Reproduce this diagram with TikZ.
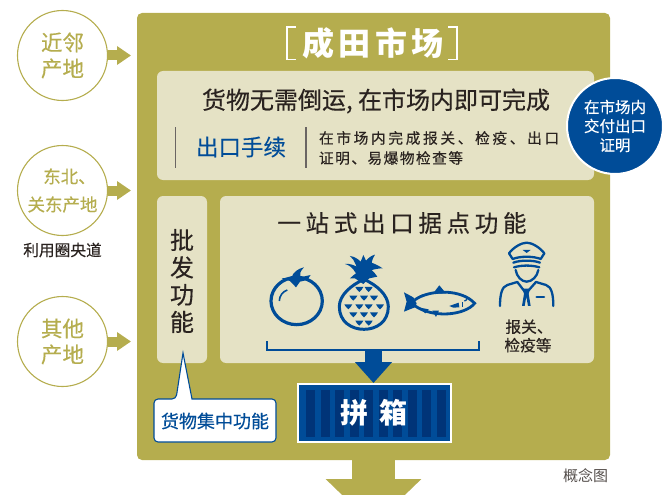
\documentclass[tikz,border=0pt]{standalone}
\usepackage{fontspec}
\setmainfont{Noto Sans CJK SC}
\usetikzlibrary{arrows.meta}
\definecolor{gold}{HTML}{B5AD4E}
\definecolor{pale}{HTML}{E5E2C5}
\definecolor{navy}{HTML}{004C98}
\definecolor{deepnavy}{HTML}{003478}
\definecolor{ink}{HTML}{2A2320}
\newcommand{\fsz}[2]{\fontsize{#1}{#2}\selectfont}
\newcommand{\lsp}[1]{\addfontfeature{LetterSpace=#1}}
\newcommand{\hvy}{\addfontfeature{FakeBold=0.35}}
\tikzset{
  x=1pt,y=-1pt,
  every node/.style={inner sep=0pt,outer sep=0pt,align=center},
  panel/.style={fill=pale,rounded corners=6pt},
  origin/.style={circle,draw=gold,line width=1.1pt,fill=white,minimum size=90pt,text=gold},
  feed/.style={draw=gold,line width=10pt,-{Triangle[length=14pt,width=18pt]},shorten >=6pt},
  rule/.style={draw=ink!70,line width=1.2pt},
  blueline/.style={draw=navy,line width=1.8pt},
}
\begin{document}
\begin{tikzpicture}
\useasboundingbox (0,0) rectangle (667,495);
\clip (0,0) rectangle (667,495);
% main panel
\node[fill=gold,rounded corners=5pt,minimum width=473pt,minimum height=447pt,anchor=north west] (main) at (137,13) {};
\node[panel,minimum width=437pt,minimum height=109pt,anchor=north west] (top) at (157,71) {};
\node[panel,minimum width=50pt,minimum height=167pt,anchor=north west] (batch) at (157,196) {};
\node[panel,minimum width=374pt,minimum height=167pt,anchor=north west] (stop) at (220,196) {};
% title
\node[text=white,font=\bfseries\fsz{32}{32}\lsp{14}] (title) at (373,43) {成田市场};
\draw[white,line width=1.3pt] (296,27) -- (287,27) -- (287,59.5) -- (296,59.5);
\draw[white,line width=1.3pt] (448,27) -- (457,27) -- (457,59.5) -- (448,59.5);
% top panel
\node[text=ink,font=\fsz{24}{24}\hvy] (head) at (376,101) {货物无需倒运, 在市场内即可完成};
\draw[rule] (175.7,127) -- (175.7,168);
\draw[rule] (306,127) -- (306,168);
\node[text=navy,font=\fsz{22.5}{22.5}\hvy] (proc) at (241,147) {出口手续};
\node[text=ink,font=\fsz{14.7}{20}\lsp{18}\hvy,anchor=west,align=left] (procnote) at (319,148) {在市场内完成报关、检疫、出口\\[0pt]{\lsp{10}证明、易爆物检查等}};
% blue circle
\node[circle,fill=navy,draw=white,line width=2pt,minimum size=96pt,text=white,font=\fsz{15.5}{19}\hvy] (cert) at (615,126) {在市场内\\交付出口\\证明};
% origins
\node[origin,font=\fsz{21.5}{26}\hvy] (o1) at (62.5,55.5) {近邻\\产地};
\node[origin,font=\fsz{17.5}{28}\hvy] (o2) at (62.5,190.5) {\hspace*{14pt}东北、\\关东产地};
\node[origin,font=\fsz{21.5}{26}\hvy] (o3) at (62.5,341.5) {其他\\产地};
\node[text=ink,font=\fsz{15.7}{16}\hvy] (ring) at (62.5,250) {利用圈央道};
\draw[feed] (o1.east) -- (o1.east -| main.west);
\draw[feed] (o2.east) -- (o2.east -| main.west);
\draw[feed] (o3.east) -- (o3.east -| main.west);
% batch
\node[text=ink,font=\fsz{24}{27.3}\hvy] (batchtxt) at (182,281) {批\\发\\功\\能};
% one stop
\node[text=ink,font=\fsz{23.5}{23.5}\lsp{20}\hvy] (stoptxt) at (402,223) {一站式出口据点功能};
\node[text=ink,font=\fsz{15.7}{18.5}\hvy] (insp) at (528,336) {\hspace*{2pt}报关、\\检疫等};
% tomato
\begin{scope}[shift={(220,190)},x=0.3333pt,y=-0.3333pt]
 \draw[navy,line width=3.2pt] (230,333) ellipse [x radius=77,y radius=71];
 \fill[navy] (185,265) -- (215,262) .. controls (218,248) and (235,235) .. (252,232) .. controls (240,245) and (238,252) .. (241,262) -- (272,255) -- (262,270) -- (240,275) -- (228,292) -- (210,273) -- cycle;
 \draw[navy,line width=1.6pt] (178,333) .. controls (178,318) and (188,305) .. (202,300);
 % pineapple
 \draw[navy,line width=3pt] (432,268) .. controls (470,285) and (505,315) .. (505,350) .. controls (505,395) and (470,418) .. (432,418) .. controls (394,418) and (358,395) .. (358,350) .. controls (358,315) and (394,285) .. (432,268) -- cycle;
 \fill[navy] (430,282) -- (405,265) -- (390,265) .. controls (398,258) and (402,254) .. (408,250) .. controls (398,232) and (385,224) .. (375,222) .. controls (390,220) and (402,226) .. (410,230) .. controls (402,212) and (398,204) .. (390,198) .. controls (405,200) and (415,208) .. (422,215) .. controls (426,206) and (428,200) .. (430,195) .. controls (434,202) and (436,208) .. (438,212) .. controls (445,204) and (455,196) .. (465,194) .. controls (460,202) and (456,210) .. (455,218) .. controls (465,222) and (478,228) .. (488,235) .. controls (475,235) and (465,238) .. (455,240) .. controls (462,246) and (468,254) .. (472,260) -- (448,265) -- cycle;
 \foreach \px/\py in {418/298,446/298,400/324,432/324,462/324,385/350,418/350,446/350,480/350,400/374,432/374,462/374,418/399,446/399}{
  \fill[navy] (\px-12,\py-7) -- (\px+12,\py-7) -- (\px+7,\py+1) -- (\px,\py+8) -- (\px-7,\py+1) -- cycle;
 }
 % fish
 \fill[navy] (552,307) -- (580,322) -- (590,340) -- (585,352) -- (552,365) -- (560,335) -- cycle;
 \fill[navy] (638,312) -- (658,286) -- (678,310) -- cycle;
 \fill[navy] (595,320) -- (607,313) -- (614,318) -- cycle;
 \fill[navy] (594,352) -- (626,358) -- (616,370) -- cycle;
 \fill[navy] (637,362) -- (657,362) -- (648,381) -- cycle;
 \draw[navy,line width=2.8pt] (584,330) .. controls (630,297) and (725,297) .. (764,340) .. controls (735,376) and (640,386) .. (584,347);
 \fill[navy] (688,348) -- (716,338) -- (718,352) -- (700,353) -- cycle;
 \draw[navy,line width=1.2pt] (733,333) arc [start angle=90,end angle=-90,radius=8];
 \draw[navy,line width=1.6pt] (727,337) -- (727,350);
\end{scope}
% inspector
\begin{scope}[shift={(480,230)},x=0.3333pt,y=-0.3333pt,line join=round,line cap=round]
 \draw[navy,line width=2.3pt] (98,87) -- (87,70) .. controls (100,52) and (125,38) .. (140,38) .. controls (155,38) and (180,52) .. (193,70) -- (182,87) .. controls (160,78) and (120,78) .. (98,87) -- cycle;
 \fill[navy] (128,60) -- (152,60) -- (140,69) -- cycle;
 \draw[navy,line width=2.3pt] (100,98) .. controls (120,90) and (160,90) .. (180,98);
 \draw[navy,line width=2.3pt] (102,112) .. controls (125,105) and (155,105) .. (178,112);
 \draw[navy,line width=2.3pt] (107,120) .. controls (110,140) and (125,155) .. (140,155) .. controls (155,155) and (172,140) .. (175,120);
 \draw[navy,line width=2.3pt] (60,228) .. controls (60,195) and (65,170) .. (82,165) -- (112,156) -- (138,190) -- (168,156) -- (198,165) .. controls (215,170) and (220,195) .. (220,228);
 \fill[navy] (128,176) -- (150,176) -- (146,192) -- (152,228) -- (144,228) -- (139,200) -- (134,228) -- (126,228) -- (132,192) -- cycle;
 \draw[navy,line width=2.6pt] (170,201) -- (192,201);
\end{scope}
% bracket and arrow to container
\node[fill=white,minimum width=155pt,minimum height=60pt,anchor=north west] (box) at (297,383) {};
\node[fill=navy,minimum width=151pt,minimum height=56pt] (boxin) at (box.center) {};
\foreach \i in {0,...,9}{\fill[deepnavy] (306+14.5*\i,390) rectangle ++(9,47);}
\node[text=white,font=\bfseries\fsz{28}{28}] (pin) at (354,413) {拼};
\node[text=white,font=\bfseries\fsz{28}{28}] (xiang) at (393,413) {箱};
\coordinate (bracketmid) at (373.5,350);
\draw[blueline] (267,341) -- (267,350) -- (479,350) -- (479,341);
\draw[navy,line width=17pt,-{Triangle[length=21pt,width=36pt]}] (bracketmid) -- (box.north -| bracketmid);
% callout
\draw[navy,line width=1.1pt,fill=white,rounded corners=4pt] (154,399) -- (176,399) [sharp corners] -- (183,353) -- (192,399) [rounded corners=4pt] -- (276,399) -- (276,442) -- (154,442) -- cycle;
\node[text=navy,font=\fsz{18}{18}\hvy] (gather) at (215,421) {货物集中功能};
% output arrow
\coordinate (out) at (373.5,525.5);
\draw[gold,line width=43pt,-{Triangle[length=46.5pt,width=93pt]}] (main.south -| out) -- (out);
\node[text=ink!80,font=\fsz{15}{15}] (note) at (585.5,476) {概念图};
\end{tikzpicture}
\end{document}
